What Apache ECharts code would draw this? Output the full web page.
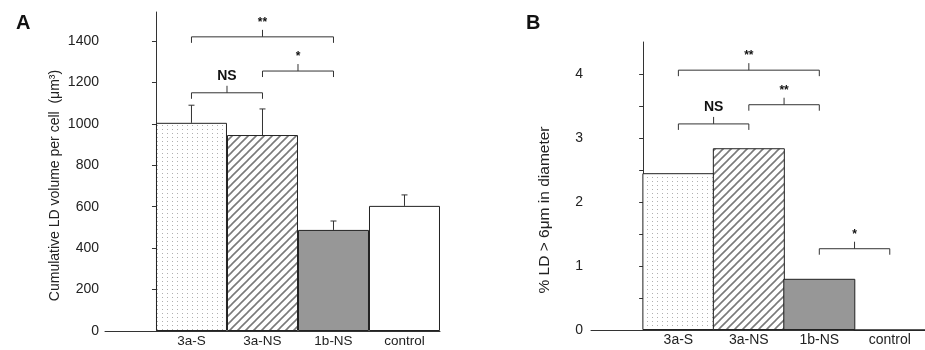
<!DOCTYPE html>
<html><head><meta charset="utf-8">
<script src="https://cdn.jsdelivr.net/npm/echarts@6/dist/echarts.min.js"></script>
<style>html,body{margin:0;padding:0;background:#fff}#c{width:925px;height:350px}</style>
</head><body><div id="c"></div>
<script>
const categories = ['3a-S', '3a-NS', '1b-NS', 'control'];
const volumeA = [1005, 946, 488, 604];
const volumeErrTopA = [1090, 1072, 531, 657];
const percentB = [2.45, 2.84, 0.80, 0];
const ticksA = [0, 200, 400, 600, 800, 1000, 1200, 1400];
const ticksB = [0, 1, 2, 3, 4];
const minorTicksB = [0, 0.5, 1, 1.5, 2, 2.5, 3, 3.5, 4];
// significance brackets: from category index, to category index, bracket level, label
const bracketsA = [
  {from: 0, to: 1, y: 1150, label: 'NS'},
  {from: 1, to: 2, y: 1255, label: '*'},
  {from: 0, to: 2, y: 1420, label: '**'}
];
const bracketsB = [
  {from: 0, to: 1, y: 3.22, label: 'NS'},
  {from: 1, to: 2, y: 3.52, label: '**'},
  {from: 0, to: 2, y: 4.06, label: '**'},
  {from: 2, to: 3, y: 1.27, label: '*'}
];

const FONT = '"Liberation Sans", Arial, sans-serif';
const AX = '#333';

function makeDots() {
  const c = document.createElement('canvas'); c.width = 5; c.height = 4;
  const g = c.getContext('2d');
  g.fillStyle = '#fff'; g.fillRect(0, 0, 5, 4);
  g.fillStyle = '#b0b0b0'; g.fillRect(2, 1, 1, 1);
  return c;
}
function makeHatch() {
  const s = 8;
  const c = document.createElement('canvas'); c.width = s; c.height = s;
  const g = c.getContext('2d');
  g.fillStyle = '#fff'; g.fillRect(0, 0, s, s);
  g.strokeStyle = '#7a7a7a'; g.lineWidth = 1.6;
  g.beginPath();
  g.moveTo(-1, s + 1); g.lineTo(s + 1, -1);
  g.moveTo(-1, 1); g.lineTo(1, -1);
  g.moveTo(s - 1, s + 1); g.lineTo(s + 1, s - 1);
  g.stroke();
  return c;
}
const fills = [
  {image: makeDots(), repeat: 'repeat'},
  {image: makeHatch(), repeat: 'repeat'},
  '#979797',
  '#ffffff'
];

function barData(vals) { return vals.map((v, i) => ({value: [i + 0.5, v], itemStyle: {color: fills[i]}})); }

function bracketRender(list) {
  return function (params, api) {
    const b = list[params.dataIndex];
    const p1 = api.coord([b.from + 0.5, b.y]);
    const p2 = api.coord([b.to + 0.5, b.y]);
    const mid = (p1[0] + p2[0]) / 2;
    const st = {stroke: AX, lineWidth: 1, fill: null};
    const isNS = b.label === 'NS';
    return {type: 'group', children: [
      {type: 'polyline', shape: {points: [[p1[0], p1[1] + 6], [p1[0], p1[1]], [p2[0], p2[1]], [p2[0], p2[1] + 6]]}, style: st},
      {type: 'line', shape: {x1: mid, y1: p1[1], x2: mid, y2: p1[1] - 7}, style: st},
      {type: 'text', x: mid, y: p1[1] - (isNS ? 10 : 8), style: {text: b.label, textAlign: 'center', textVerticalAlign: 'bottom',
        font: 'bold ' + (isNS ? 14 : 12) + 'px ' + FONT, fill: '#111'}}
    ]};
  };
}
function errRender(vals, tops) {
  return function (params, api) {
    const i = params.dataIndex;
    const a = api.coord([i + 0.5, vals[i]]);
    const b = api.coord([i + 0.5, tops[i]]);
    const st = {stroke: AX, lineWidth: 1};
    return {type: 'group', children: [
      {type: 'line', shape: {x1: a[0], y1: a[1], x2: b[0], y2: b[1]}, style: st},
      {type: 'line', shape: {x1: b[0] - 3, y1: b[1], x2: b[0] + 3, y2: b[1]}, style: st}
    ]};
  };
}

const chart = echarts.init(document.getElementById('c'), null, {renderer: 'canvas'});
function xAxisFor(grid, min, fs) {
  return {
    type: 'value', gridIndex: grid, min: min, max: 4, splitLine: {show: false},
    axisLine: {show: true, onZero: false, lineStyle: {color: AX, width: 1}},
    axisTick: {show: false},
    axisLabel: {customValues: [0.5, 1.5, 2.5, 3.5], formatter: v => categories[Math.floor(v)], color: '#222', fontSize: fs, fontFamily: FONT, margin: 3}
  };
}
chart.setOption({
  animation: false,
  title: [
    {text: 'A', left: 11, top: 8, textStyle: {fontSize: 20, fontWeight: 'bold', fontFamily: FONT, color: '#111'}},
    {text: 'B', left: 521, top: 8, textStyle: {fontSize: 20, fontWeight: 'bold', fontFamily: FONT, color: '#111'}}
  ],
  grid: [
    {left: 105, top: 12, width: 335, height: 319},
    {left: 591, top: 42, width: 340, height: 288}
  ],
  xAxis: [xAxisFor(0, -0.718, 13.5), xAxisFor(1, -0.74, 14)],
  yAxis: [
    {type: 'value', gridIndex: 0, min: 0, max: 1540, interval: 200, splitLine: {show: false},
      axisLine: {show: true, lineStyle: {color: AX}},
      axisTick: {show: true, length: 4, customValues: ticksA, lineStyle: {color: AX}},
      axisLabel: {customValues: ticksA, formatter: v => String(v), color: '#222', fontSize: 14, fontFamily: FONT, margin: 6},
      name: 'Cumulative LD volume per cell  (μm³)', nameLocation: 'middle', nameRotate: 90, nameGap: 43,
      nameTextStyle: {fontSize: 14, fontFamily: FONT, color: '#222', padding: [0, 28, 0, 0]}},
    {type: 'value', gridIndex: 1, min: 0, max: 4.5, interval: 1, splitLine: {show: false},
      axisLine: {show: true, lineStyle: {color: AX}},
      axisTick: {show: true, length: 4, customValues: minorTicksB, lineStyle: {color: AX}},
      axisLabel: {customValues: ticksB, formatter: v => String(v), color: '#222', fontSize: 14, fontFamily: FONT, margin: 8},
      name: '% LD > 6μm in diameter', nameLocation: 'middle', nameRotate: 90, nameGap: 38,
      nameTextStyle: {fontSize: 15.5, fontFamily: FONT, color: '#222', padding: [0, 48, 0, 0]}}
  ],
  series: [
    {type: 'bar', xAxisIndex: 0, yAxisIndex: 0, barWidth: 71, data: barData(volumeA),
      itemStyle: {borderColor: '#222', borderWidth: 1}, z: 2},
    {type: 'custom', xAxisIndex: 0, yAxisIndex: 0, renderItem: errRender(volumeA, volumeErrTopA),
      data: volumeErrTopA.map((v, i) => [i + 0.5, v]), z: 3, clip: false},
    {type: 'custom', xAxisIndex: 0, yAxisIndex: 0, renderItem: bracketRender(bracketsA),
      data: bracketsA.map(b => [b.from + 0.5, b.y]), z: 3, clip: false},
    {type: 'bar', xAxisIndex: 1, yAxisIndex: 1, barWidth: 72, data: barData(percentB),
      itemStyle: {borderColor: '#222', borderWidth: 1}, z: 2},
    {type: 'custom', xAxisIndex: 1, yAxisIndex: 1, renderItem: bracketRender(bracketsB),
      data: bracketsB.map(b => [b.from + 0.5, b.y]), z: 3, clip: false}
  ]
});
</script></body></html>
